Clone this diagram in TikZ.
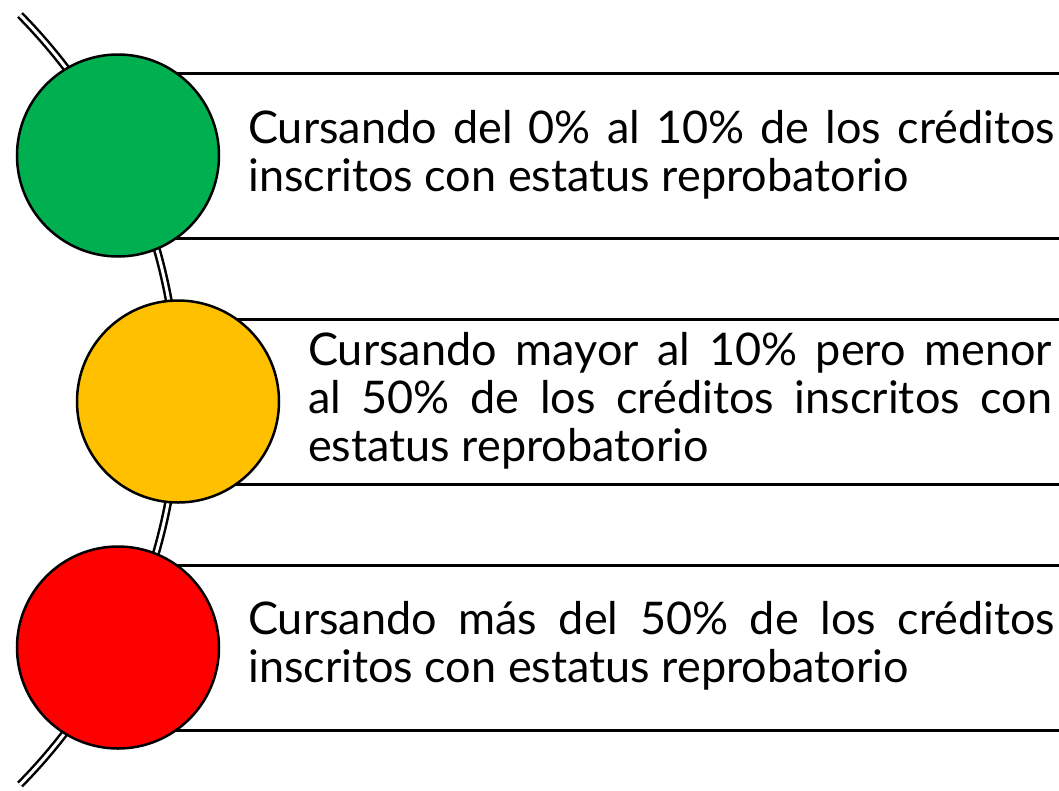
\documentclass[tikz,border=0pt]{standalone}
\usepackage{fontspec}
\setmainfont{Lato}
\usepackage{xcolor}
\definecolor{verde}{HTML}{00B050}
\definecolor{ambar}{HTML}{FFC000}
\definecolor{rojo}{HTML}{FF0000}

\tikzset{
	luz/.style={circle,draw=black,line width=2.5pt,minimum size=202pt,inner sep=0pt},
	raya/.style={line width=3pt},
	texto/.style={anchor=north west,inner sep=0pt,align=justify,font=\fontsize{45}{48}\selectfont},
}

\begin{document}
\begin{tikzpicture}[x=1pt,y=1pt]
	\useasboundingbox (0,0) rectangle (1059,-790);
	\coordinate (e) at (1059,0);
	\coordinate (a) at (118,-155.5);
	\coordinate (b) at (178,-401.5);
	\coordinate (c) at (118,-647.5);
	% bands behind the lights
	\foreach \n in {a,b,c}{
		\draw[raya] ([yshift=82.5pt]\n) -- ([yshift=82.5pt]\n -| e);
		\draw[raya] ([yshift=-82.5pt]\n) -- ([yshift=-82.5pt]\n -| e);
	}
	\draw[line width=2.5pt,double=white,double distance=3pt] (20,-15) arc[start angle=44.6,end angle=-44.6,radius=548];
	\node[luz,fill=verde] (la) at (a) {};
	\node[luz,fill=ambar] (lb) at (b) {};
	\node[luz,fill=rojo] (lc) at (c) {};
	\node[texto,text width=807pt] (ta) at (248,-110.5) {Cursando del 0\% al 10\% de los créditos\linebreak inscritos con estatus reprobatorio};
	\node[texto,text width=744pt] (tb) at (308,-332.5) {Cursando mayor al 10\% pero menor\linebreak al 50\% de los créditos inscritos con\linebreak estatus reprobatorio};
	\node[texto,text width=807pt] (tc) at (248,-601.5) {Cursando más del 50\% de los créditos\linebreak inscritos con estatus reprobatorio};
\end{tikzpicture}
\end{document}
